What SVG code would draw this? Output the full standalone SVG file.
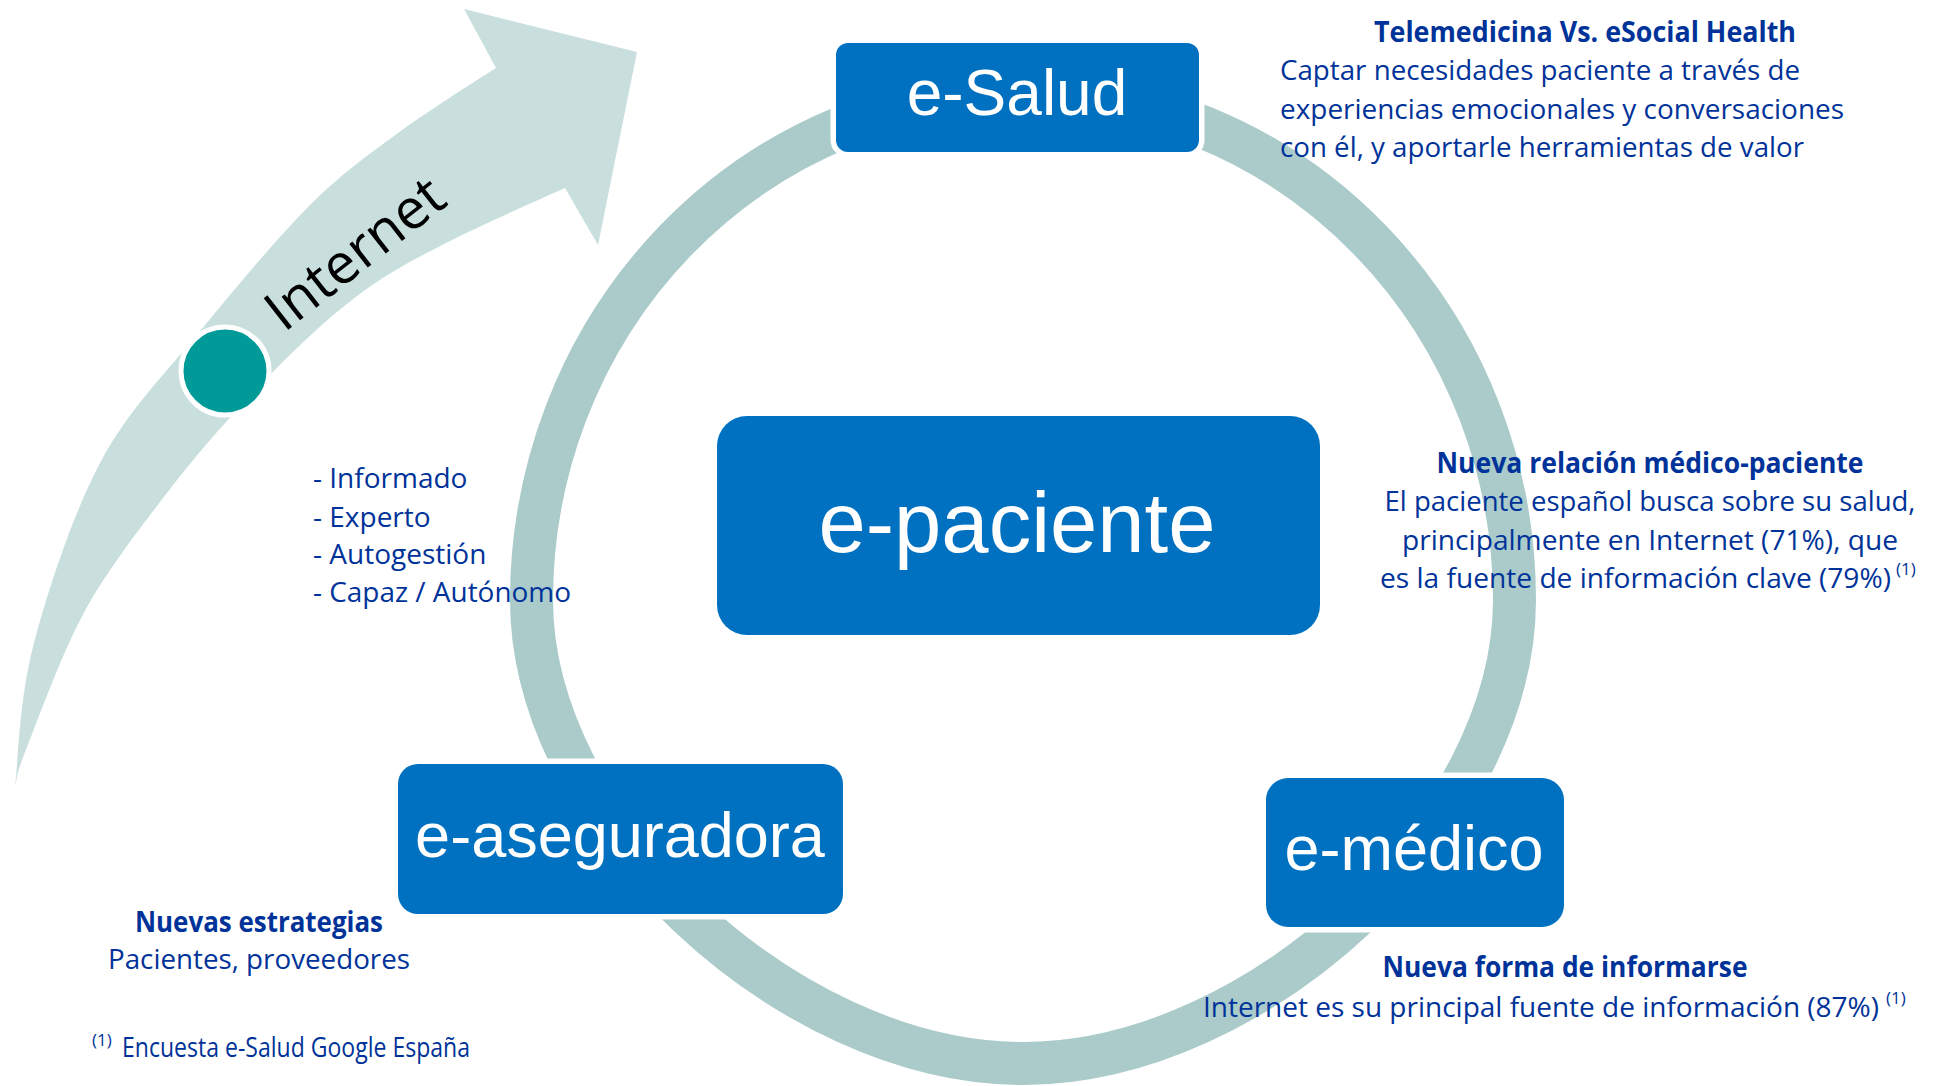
<svg xmlns="http://www.w3.org/2000/svg" width="1941" height="1086" viewBox="0 0 1941 1086">
<style>
.halo{fill:#FFFFFF;stroke:#FFFFFF;stroke-width:11}
.box{fill:#0070C0}
.lbl{font-family:"Liberation Sans",Arial,sans-serif;fill:#FFFFFF;text-anchor:middle}
.t{font-family:"Open Sans","Noto Sans",sans-serif;font-size:28px;fill:#003399}
.b{font-weight:700}
.m{text-anchor:middle}
.sup{font-family:"Open Sans","Noto Sans",sans-serif;font-size:17px;fill:#003399}
</style>
<rect width="1941" height="1086" fill="#FFFFFF"/>

<g id="internet-arrow">
<path fill="#C9DFDE" d="M15,787 C18,764 19,701 33,647 C47,593 72,516 100,463 C128,410 166,373 201,330 C236,287 279,236 312,203 C346,170 371,153 402,130 C433,108 480,78 496,68 L464,9 L637,52 L598,245 L565,188 C545,197 481,225 446,243 C411,261 386,274 357,296 C328,318 300,344 270,375 C240,406 208,441 177,480 C147,519 112,563 87,607 C62,652 39,717 27,747 C15,777 17,780 15,787 Z"/>
<text transform="translate(284,333) rotate(-38)" font-family="'Open Sans','Noto Sans',sans-serif" font-size="56" fill="#000000">Internet</text>
</g>

<g id="connectors">
<path fill="none" stroke="#AACBCA" stroke-width="43" d="M531.5,600 A491.5,508.5 0 0 1 1514.5,600 C1514.5,822.9 1259.4,1063.5 1023,1063.5 C786.6,1063.5 531.5,822.9 531.5,600 Z"/>
</g>

<g id="internet-dot">
<circle cx="225" cy="371" r="44" fill="#009A98" stroke="#FFFFFF" stroke-width="5"/>
</g>

<g id="node-esalud">
<rect class="halo" x="836" y="43" width="363" height="109" rx="12"/>
<rect class="box" x="836" y="43" width="363" height="109" rx="12"/>
<text class="lbl" x="1017" y="115" font-size="64">e-Salud</text>
</g>

<g id="node-epaciente">
<rect class="halo" x="717" y="416" width="603" height="219" rx="30"/>
<rect class="box" x="717" y="416" width="603" height="219" rx="30"/>
<text class="lbl" x="1017" y="552" font-size="85">e-paciente</text>
</g>

<g id="node-easeguradora">
<rect class="halo" x="398" y="764" width="445" height="150" rx="20"/>
<rect class="box" x="398" y="764" width="445" height="150" rx="20"/>
<text class="lbl" x="620" y="857" font-size="63">e-aseguradora</text>
</g>

<g id="node-emedico">
<rect class="halo" x="1266" y="778" width="298" height="149" rx="22"/>
<rect class="box" x="1266" y="778" width="298" height="149" rx="22"/>
<text class="lbl" x="1414" y="870" font-size="63">e-médico</text>
</g>

<g id="text-esalud">
<text class="t b m" x="1585" y="42" textLength="422" lengthAdjust="spacingAndGlyphs">Telemedicina Vs. eSocial Health</text>
<text class="t" x="1280" y="80" textLength="520" lengthAdjust="spacingAndGlyphs">Captar necesidades paciente a través de</text>
<text class="t" x="1280" y="119" textLength="564" lengthAdjust="spacingAndGlyphs">experiencias emocionales y conversaciones</text>
<text class="t" x="1280" y="157" textLength="524" lengthAdjust="spacingAndGlyphs">con él, y aportarle herramientas de valor</text>
</g>

<g id="text-relacion">
<text class="t b m" x="1650" y="473" textLength="427" lengthAdjust="spacingAndGlyphs">Nueva relación médico-paciente</text>
<text class="t m" x="1650" y="511" textLength="531" lengthAdjust="spacingAndGlyphs">El paciente español busca sobre su salud,</text>
<text class="t m" x="1650" y="550" textLength="496" lengthAdjust="spacingAndGlyphs">principalmente en Internet (71%), que</text>
<text class="t" x="1380" y="588" textLength="511" lengthAdjust="spacingAndGlyphs">es la fuente de información clave (79%)</text>
<text class="sup" x="1896" y="575">(1)</text>
</g>

<g id="text-paciente">
<text class="t" x="313" y="488">- Informado</text>
<text class="t" x="313" y="527">- Experto</text>
<text class="t" x="313" y="564">- Autogestión</text>
<text class="t" x="313" y="602" textLength="258" lengthAdjust="spacingAndGlyphs">- Capaz / Autónomo</text>
</g>

<g id="text-aseguradora">
<text class="t b m" x="259" y="932" textLength="248" lengthAdjust="spacingAndGlyphs">Nuevas estrategias</text>
<text class="t m" x="259" y="969" textLength="302" lengthAdjust="spacingAndGlyphs">Pacientes, proveedores</text>
</g>

<g id="text-medico">
<text class="t b m" x="1565" y="977" textLength="365" lengthAdjust="spacingAndGlyphs">Nueva forma de informarse</text>
<text class="t" x="1203" y="1017" textLength="676" lengthAdjust="spacingAndGlyphs">Internet es su principal fuente de información (87%)</text>
<text class="sup" x="1886" y="1004">(1)</text>
</g>

<g id="footnote">
<text class="sup" x="92" y="1046">(1)</text>
<text class="t" x="122" y="1057" font-size="22" textLength="348" lengthAdjust="spacingAndGlyphs">Encuesta e-Salud Google España</text>
</g>
</svg>
